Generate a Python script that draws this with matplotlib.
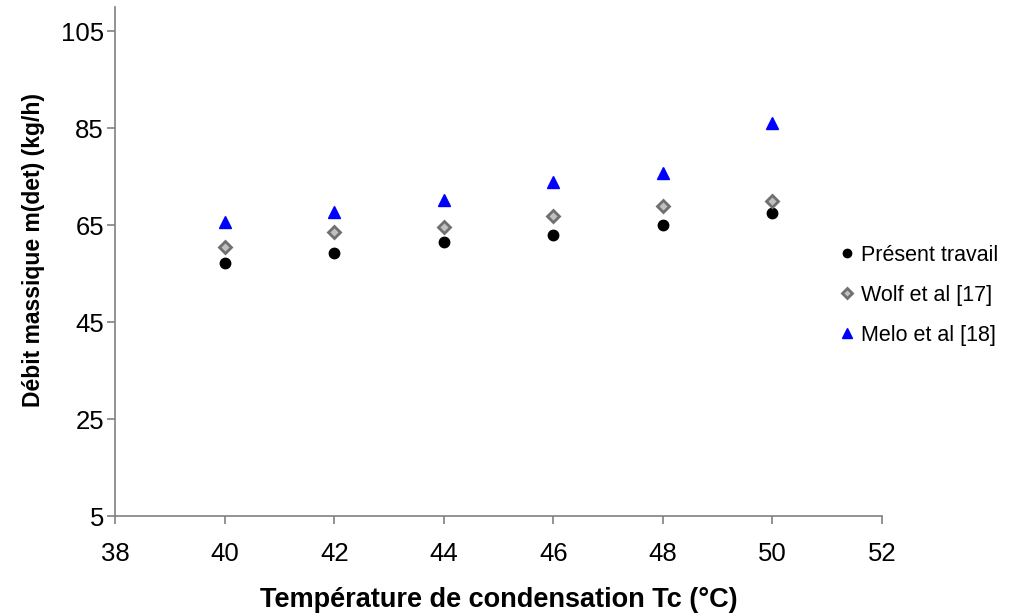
import matplotlib.pyplot as plt

plt.rcParams['font.family'] = ['Liberation Sans', 'DejaVu Sans']

# Température de condensation (°C)
tc = [40, 42, 44, 46, 48, 50]

# débit massique (kg/h)
present = [57.2, 59.3, 61.4, 63.0, 65.0, 67.5]
wolf = [60.5, 63.5, 64.5, 66.9, 68.9, 69.9]
melo = [65.7, 67.7, 70.2, 73.9, 75.7, 86.1]

x_ticks = [38, 40, 42, 44, 46, 48, 50, 52]
y_ticks = [5, 25, 45, 65, 85, 105]

fig = plt.figure(figsize=(10.19, 6.16), dpi=100)
ax = fig.add_axes([0.113, 0.1623, 0.7526, 0.8267])

ax.plot(tc, present, 'o', color='black', markersize=7.5, linestyle='none',
        label='Présent travail')
ax.plot(tc, wolf, 'D', markerfacecolor='#c0c0c0', markeredgecolor='#707070',
        markeredgewidth=2, markersize=6.5, linestyle='none', label='Wolf et al [17]')
ax.plot(tc, melo, '^', color='#0000ff', markersize=9, linestyle='none',
        label='Melo et al [18]')

ax.set_xlim(38, 52)
ax.set_ylim(5, 110)
ax.set_xticks(x_ticks)
ax.set_yticks(y_ticks)

for side in ['top', 'right']:
    ax.spines[side].set_visible(False)
for side in ['left', 'bottom']:
    ax.spines[side].set_color('#808080')
    ax.spines[side].set_linewidth(1.2)
ax.tick_params(direction='out', length=6, width=1.2, color='#808080',
               labelsize=18.5)
ax.tick_params(axis='x', pad=13)
ax.tick_params(axis='y', pad=2)

ax.set_xlabel('Température de condensation Tc (°C)', fontsize=19.5,
              fontweight='bold', labelpad=15)
ax.set_ylabel('Débit massique m(det) (kg/h)', fontsize=16.5,
              fontweight='bold')
ax.yaxis.set_label_coords(-0.092, 0.523)

fig.legend(loc='center left', bbox_to_anchor=(0.801, 0.521), frameon=False,
           fontsize=15.5, handletextpad=0.1, labelspacing=0.88, handlelength=1.1,
           markerscale=0.8)

fig.savefig('out.png', dpi=100)
